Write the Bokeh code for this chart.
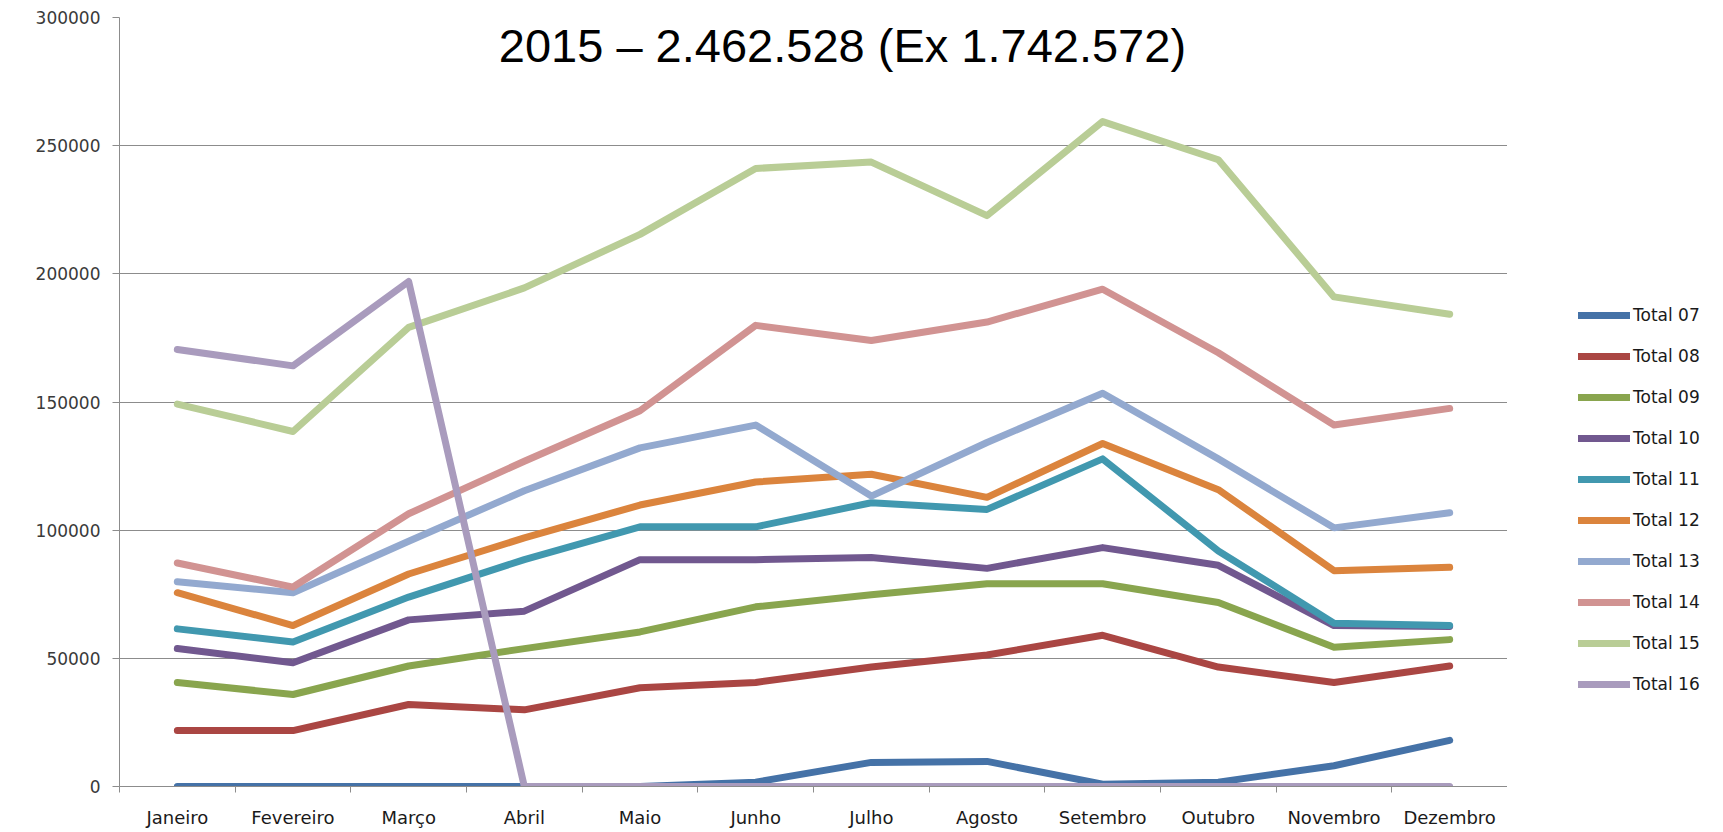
from bokeh.plotting import figure
from bokeh.layouts import row
from bokeh.models import Range1d, FixedTicker, Legend, LegendItem, Label, ColumnDataSource
from bokeh.embed import file_html
from bokeh.resources import INLINE

months = ["Janeiro", "Fevereiro", "Março", "Abril", "Maio", "Junho", "Julho",
          "Agosto", "Setembro", "Outubro", "Novembro", "Dezembro"]

total_07 = [0, 0, 0, 0, 0, 1700, 9400, 9800, 900, 1700, 8100, 18000]
total_08 = [21800, 21800, 32000, 29900, 38500, 40600, 46600, 51300, 59000, 46600, 40600, 47000]
total_09 = [40600, 35900, 47000, 53800, 60300, 70100, 74800, 79100, 79100, 71800, 54300, 57300]
total_10 = [53800, 48300, 65000, 68400, 88500, 88500, 89300, 85100, 93200, 86300, 62800, 62400]
total_11 = [61500, 56400, 73900, 88500, 101300, 101300, 110700, 108100, 127800, 91900, 63700, 62800]
total_12 = [75600, 62800, 82900, 97000, 109800, 118800, 121800, 112800, 133800, 115800, 84200, 85500]
total_13 = [79900, 75600, 95700, 115400, 132100, 141000, 113300, 134200, 153400, 127800, 100900, 106800]
total_14 = [87200, 77800, 106400, 126900, 146600, 179900, 174000, 181200, 194000, 169200, 141000, 147500]
total_15 = [149200, 138500, 179100, 194500, 215400, 241100, 243600, 222700, 259400, 244500, 191000, 184200]
total_16 = [170500, 164100, 197000, 0, 0, 0, 0, 0, 0, 0, 0, 0]

series_names = ["Total 07", "Total 08", "Total 09", "Total 10", "Total 11",
                "Total 12", "Total 13", "Total 14", "Total 15", "Total 16"]
series_values = [total_07, total_08, total_09, total_10, total_11,
                 total_12, total_13, total_14, total_15, total_16]
colors = ["#4572A7", "#AA4643", "#89A54E", "#71588F", "#4198AF",
          "#DB843D", "#93A9CF", "#D19392", "#B9CD96", "#A99BBD"]

y_ticks = [0, 50000, 100000, 150000, 200000, 250000, 300000]
title_text = "2015 – 2.462.528 (Ex 1.742.572)"

x_pos = [i + 0.5 for i in range(len(months))]

H = 830
p = figure(width=1507, height=H, output_backend="svg", toolbar_location=None,
           x_range=Range1d(0, 12), y_range=Range1d(0, 300000),
           min_border_left=119, min_border_right=0, min_border_top=17,
           min_border_bottom=44)
p.outline_line_color = None
p.background_fill_color = "white"
p.border_fill_color = "white"

# grid
p.xgrid.grid_line_color = None
p.ygrid.ticker = FixedTicker(ticks=y_ticks)
p.ygrid.grid_line_color = "#8c8c8c"
p.ygrid.grid_line_width = 1

# y axis
ya = p.yaxis[0]
ya.ticker = FixedTicker(ticks=y_ticks)
ya.axis_line_color = "#8c8c8c"
ya.major_tick_line_color = "#8c8c8c"
ya.major_tick_out = 7
ya.major_tick_in = 0
ya.minor_tick_line_color = None
ya.major_label_text_font = "DejaVu Sans"
ya.major_label_text_font_size = "17px"
ya.major_label_text_color = "#3a3a3a"
ya.major_label_standoff = 12
ya.major_label_overrides = {t: str(t) for t in y_ticks}

# x axis: labels at centers, tick marks at category boundaries
xa = p.xaxis[0]
xa.ticker = FixedTicker(ticks=x_pos, minor_ticks=list(range(13)))
xa.major_label_overrides = {x: m for x, m in zip(x_pos, months)}
xa.axis_line_color = "#8c8c8c"
xa.major_tick_line_color = None
xa.major_tick_out = 0
xa.major_tick_in = 0
xa.minor_tick_line_color = "#8c8c8c"
xa.minor_tick_out = 6
xa.minor_tick_in = 0
xa.major_label_text_font = "DejaVu Sans"
xa.major_label_text_font_size = "18px"
xa.major_label_text_color = "#1a1a1a"
xa.major_label_standoff = 14

for name, vals, col in zip(series_names, series_values, colors):
    src = ColumnDataSource(dict(x=x_pos, y=vals))
    p.line("x", "y", source=src, line_color=col, line_width=7,
           line_join="round", line_cap="round")

title = Label(x=6.25, y=300000, y_offset=-28, text=title_text, text_align="center",
              text_baseline="alphabetic", text_font="Liberation Sans",
              text_font_size="47px", text_color="black")
p.add_layout(title)

# legend in a side figure (its dummy lines lie outside the visible range)
leg = figure(width=213, height=H, output_backend="svg", toolbar_location=None,
             x_range=Range1d(0, 1), y_range=Range1d(0, 1),
             min_border_left=0, min_border_right=0, min_border_top=0,
             min_border_bottom=0)
leg.axis.visible = False
leg.grid.visible = False
leg.outline_line_color = None
items = []
for name, col in zip(series_names, colors):
    r = leg.line(x=[5, 6], y=[5, 5], line_color=col, line_width=7,
                 line_join="round", line_cap="round")
    items.append(LegendItem(label=name, renderers=[r]))

legend = Legend(items=items, location=(71, 92), orientation="vertical",
                glyph_width=52, glyph_height=20, label_standoff=3, spacing=21,
                padding=0, margin=0, border_line_color=None,
                background_fill_alpha=0,
                label_text_font="DejaVu Sans", label_text_font_size="17px",
                label_text_color="#1a1a1a")
leg.add_layout(legend, "center")

layout = row(p, leg, spacing=0)
open("out.html", "w").write(file_html(layout, INLINE))
